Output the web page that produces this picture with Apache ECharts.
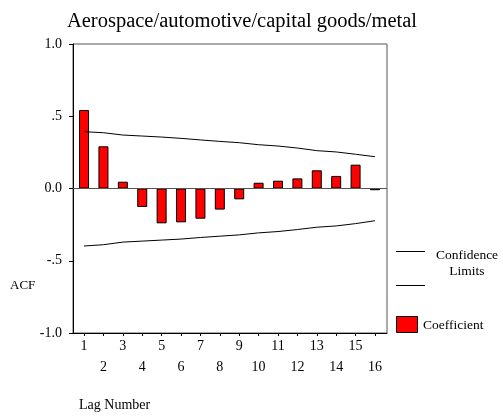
<!DOCTYPE html>
<html><head><meta charset="utf-8">
<script src="https://cdn.jsdelivr.net/npm/echarts@6/dist/echarts.min.js"></script>
<style>html,body{margin:0;padding:0;background:#fff}#c{width:503px;height:419px}</style>
</head><body><div id="c"></div>
<script>
var titleText = 'Aerospace/automotive/capital goods/metal';
var lags = [1,2,3,4,5,6,7,8,9,10,11,12,13,14,15,16];
var acf = [0.543,0.292,0.047,-0.128,-0.241,-0.234,-0.209,-0.146,-0.075,0.040,0.054,0.070,0.126,0.087,0.165,-0.012];
var upperLimit = [0.393,0.386,0.370,0.363,0.356,0.347,0.336,0.326,0.317,0.303,0.294,0.280,0.262,0.253,0.237,0.220];
var lowerLimit = [-0.398,-0.389,-0.371,-0.364,-0.357,-0.350,-0.339,-0.330,-0.321,-0.307,-0.298,-0.284,-0.268,-0.259,-0.243,-0.223];
var yTicks = [-1, -0.5, 0, 0.5, 1];
var yTickLabels = ['-1.0', '-.5', '0.0', '.5', '1.0'];

var FONT = '"Liberation Serif","DejaVu Serif",serif';
var chart = echarts.init(document.getElementById('c'), null, {renderer:'canvas'});
function pairs(a){ return lags.map(function(l,i){ return [l, a[i]]; }); }
chart.setOption({
  animation:false,
  title:{text:titleText,left:237,top:6,textAlign:'center',
    textStyle:{fontFamily:FONT,fontSize:20.5,fontWeight:'normal',color:'#000'}},
  grid:{left:73,right:116,top:44,bottom:86,show:true,borderColor:'#555',borderWidth:1,containLabel:false},
  xAxis:{type:'value',min:0.43,max:16.62,
    axisLine:{show:true,onZero:false,lineStyle:{color:'#000',width:1}},
    axisTick:{show:true,length:3,customValues:lags,lineStyle:{color:'#000'}},
    axisLabel:{customValues:lags,margin:3,fontFamily:FONT,fontSize:14,color:'#000',lineHeight:21,
      formatter:function(v){ return (v % 2 === 0) ? '\n' + v : String(v); }},
    splitLine:{show:false}},
  yAxis:{type:'value',min:-1,max:1,interval:0.5,
    axisLine:{show:true,onZero:false,lineStyle:{color:'#000',width:1}},
    axisTick:{show:true,length:4,lineStyle:{color:'#000'}},
    axisLabel:{margin:11,fontFamily:FONT,fontSize:14,color:'#000',
      formatter:function(v){ var i = yTicks.indexOf(Math.round(v*2)/2); return i>=0 ? yTickLabels[i] : ''; }},
    splitLine:{show:false}},
  series:[
    {type:'bar',data:pairs(acf),barWidth:10,
      itemStyle:{color:'#ff0000',borderColor:'#000',borderWidth:1},
      markLine:{silent:true,symbol:'none',label:{show:false},
        lineStyle:{color:'#555',width:1,type:'solid'},data:[{yAxis:0}]}},
    {type:'line',data:pairs(upperLimit),showSymbol:false,symbol:'none',lineStyle:{color:'#000',width:1}},
    {type:'line',data:pairs(lowerLimit),showSymbol:false,symbol:'none',lineStyle:{color:'#000',width:1}}
  ],
  graphic:[
    {type:'text',left:10,top:279,style:{text:'ACF',font:'13px '+FONT,fill:'#000'}},
    {type:'text',left:79,top:398,style:{text:'Lag Number',font:'14px '+FONT,fill:'#000'}},
    {type:'line',shape:{x1:396,y1:251.5,x2:425,y2:251.5},style:{stroke:'#000',lineWidth:1}},
    {type:'line',shape:{x1:396,y1:285.5,x2:425,y2:285.5},style:{stroke:'#000',lineWidth:1}},
    {type:'text',x:467,y:263,style:{text:'Confidence\nLimits',font:'13.5px '+FONT,fill:'#000',align:'center',verticalAlign:'middle',lineHeight:16}},
    {type:'rect',shape:{x:396.5,y:316.5,width:21,height:16},style:{fill:'#ff0000',stroke:'#000',lineWidth:1}},
    {type:'text',x:423,y:325,style:{text:'Coefficient',font:'13.5px '+FONT,fill:'#000',verticalAlign:'middle'}}
  ]
});
</script></body></html>
